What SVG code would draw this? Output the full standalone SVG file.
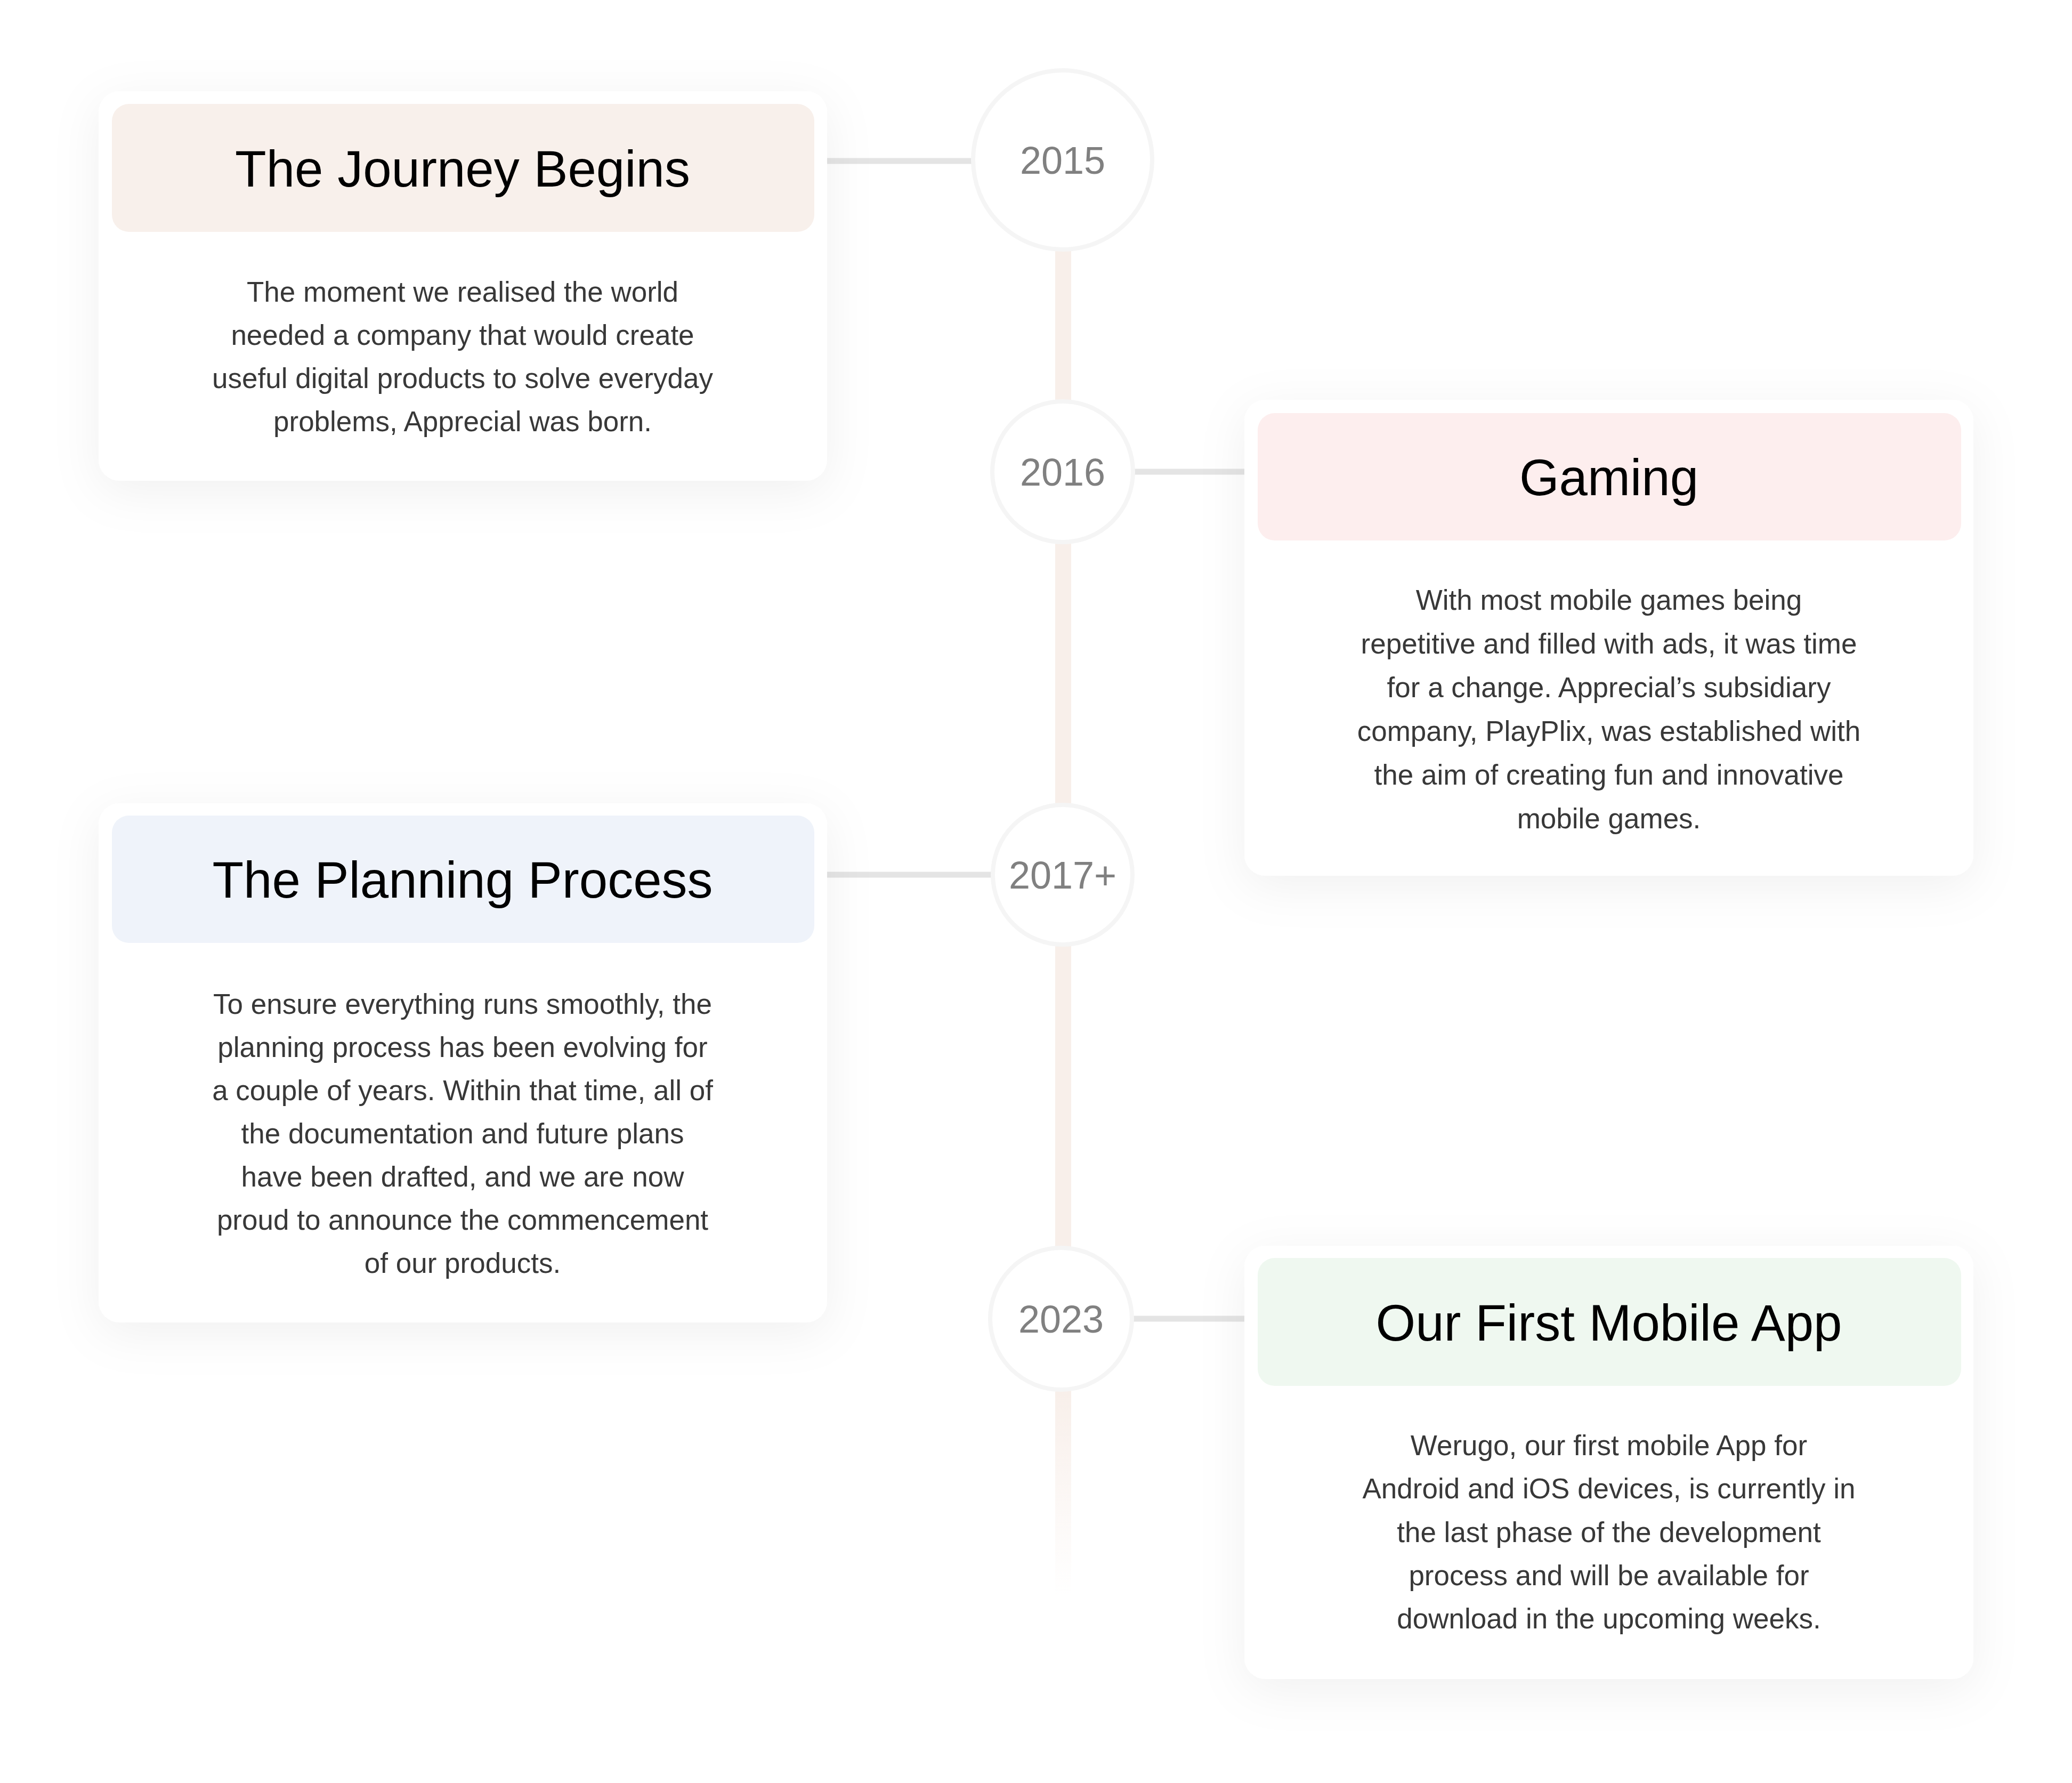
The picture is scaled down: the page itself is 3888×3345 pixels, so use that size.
<svg xmlns="http://www.w3.org/2000/svg" width="3888" height="3345" viewBox="0 0 3888 3345">
<defs>
<style>
.card{fill:#ffffff;filter:url(#shadow)}
.title{font-family:"Liberation Sans",Arial,sans-serif;font-size:96px;fill:#000000;text-anchor:middle}
.body{font-family:"Liberation Sans",Arial,sans-serif;font-size:53px;fill:#383838;text-anchor:middle}
.year{font-family:"Liberation Sans",Arial,sans-serif;font-size:72px;fill:#808080;text-anchor:middle}
.yc{fill:#ffffff;stroke:#f5f5f5;stroke-width:8}
.conn{stroke:#e4e4e4;stroke-width:11;fill:none}
</style>
<filter id="shadow" x="-20%" y="-25%" width="140%" height="150%">
<feDropShadow dx="0" dy="20" stdDeviation="45" flood-color="#000000" flood-opacity="0.06"/>
</filter>
<linearGradient id="spine" gradientUnits="userSpaceOnUse" x1="0" y1="2610" x2="0" y2="2995">
<stop offset="0" stop-color="#f8efea" stop-opacity="1"/>
<stop offset="1" stop-color="#f8efea" stop-opacity="0"/>
</linearGradient>
</defs>
<rect width="3888" height="3345" fill="#ffffff"/>

<g id="connectors">
<rect x="1980" y="460" width="30" height="2535" fill="url(#spine)"/>
<line class="conn" x1="1552" y1="302" x2="1826" y2="302"/>
<line class="conn" x1="2125" y1="885" x2="2335" y2="885"/>
<line class="conn" x1="1552" y1="1641" x2="1864" y2="1641"/>
<line class="conn" x1="2123" y1="2474" x2="2335" y2="2474"/>
</g>

<g id="card-journey">
<rect class="card" x="185" y="171" width="1367" height="731" rx="40"/>
<rect x="210" y="195" width="1318" height="240" rx="32" fill="#f8f0eb"/>
<text class="title" x="868" y="350">The Journey Begins</text>
<text class="body" x="868" y="566">The moment we realised the world</text>
<text class="body" x="868" y="647">needed a company that would create</text>
<text class="body" x="868" y="728">useful digital products to solve everyday</text>
<text class="body" x="868" y="809">problems, Apprecial was born.</text>
</g>

<g id="card-gaming">
<rect class="card" x="2335" y="750" width="1368" height="893" rx="40"/>
<rect x="2360" y="775" width="1320" height="239" rx="32" fill="#fdeeee"/>
<text class="title" x="3019" y="929">Gaming</text>
<text class="body" x="3019" y="1144">With most mobile games being</text>
<text class="body" x="3019" y="1226">repetitive and filled with ads, it was time</text>
<text class="body" x="3019" y="1308">for a change. Apprecial’s subsidiary</text>
<text class="body" x="3019" y="1390">company, PlayPlix, was established with</text>
<text class="body" x="3019" y="1472">the aim of creating fun and innovative</text>
<text class="body" x="3019" y="1554">mobile games.</text>
</g>

<g id="card-planning">
<rect class="card" x="185" y="1507" width="1367" height="974" rx="40"/>
<rect x="210" y="1530" width="1318" height="239" rx="32" fill="#eff3fa"/>
<text class="title" x="868" y="1684">The Planning Process</text>
<text class="body" x="868" y="1902">To ensure everything runs smoothly, the</text>
<text class="body" x="868" y="1983">planning process has been evolving for</text>
<text class="body" x="868" y="2064">a couple of years. Within that time, all of</text>
<text class="body" x="868" y="2145">the documentation and future plans</text>
<text class="body" x="868" y="2226">have been drafted, and we are now</text>
<text class="body" x="868" y="2307">proud to announce the commencement</text>
<text class="body" x="868" y="2388">of our products.</text>
</g>

<g id="card-app">
<rect class="card" x="2335" y="2337" width="1368" height="813" rx="40"/>
<rect x="2360" y="2360" width="1320" height="240" rx="32" fill="#eff8f0"/>
<text class="title" x="3019" y="2515">Our First Mobile App</text>
<text class="body" x="3019" y="2730">Werugo, our first mobile App for</text>
<text class="body" x="3019" y="2811">Android and iOS devices, is currently in</text>
<text class="body" x="3019" y="2893">the last phase of the development</text>
<text class="body" x="3019" y="2974">process and will be available for</text>
<text class="body" x="3019" y="3055">download in the upcoming weeks.</text>
</g>

<g id="year-2015">
<circle class="yc" cx="1994" cy="300" r="168"/>
<text class="year" x="1994" y="326">2015</text>
</g>
<g id="year-2016">
<circle class="yc" cx="1994" cy="885" r="132"/>
<text class="year" x="1994" y="911">2016</text>
</g>
<g id="year-2017">
<circle class="yc" cx="1994" cy="1641" r="131"/>
<text class="year" x="1994" y="1667">2017+</text>
</g>
<g id="year-2023">
<circle class="yc" cx="1991" cy="2474" r="133"/>
<text class="year" x="1991" y="2500">2023</text>
</g>
</svg>
